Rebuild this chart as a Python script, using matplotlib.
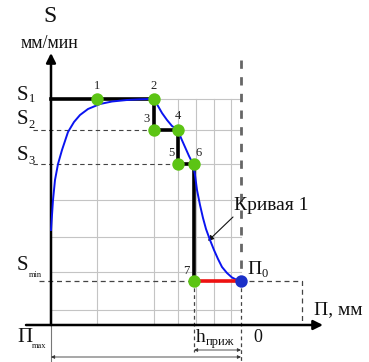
import matplotlib
matplotlib.use("Agg")
import matplotlib.pyplot as plt
import numpy as np

plt.rcParams['font.family'] = ['Liberation Serif', 'DejaVu Serif']

# picture coordinates (x to the right, y downwards)
ax_x0, ax_y0 = 51, 325           # origin of the S / П axes
x_zero = 241                      # П = 0
s_levels = {'S1': 99, 'S2': 130, 'S3': 164, 'Smin': 281}

# step path of the feed (points 1..7)
pt_names = ['1', '2', '3', '4', '5', '6', '7']
pt_x = [97, 154, 154, 178, 178, 194, 194]
pt_y = [99, 99, 130, 130, 164, 164, 281]
step_x = [51, 154, 154, 178, 178, 194, 194]
step_y = [99, 99, 130, 130, 164, 164, 281]

# curve 1
curve_x = [51, 52, 53, 55, 58, 62, 68, 74, 80, 88, 100, 112, 127, 140, 150, 154,
           158, 162, 167, 172, 178, 181, 185, 189, 193,
           195, 197, 200, 203, 206, 210, 214, 218, 222, 227, 232, 237, 241]
curve_y = [230, 215, 200, 180, 164, 150, 132, 122, 115, 109, 104, 101.5, 100, 99.3, 99, 99.5,
           106, 113, 120, 126, 130, 138, 147, 156, 164,
           175, 190, 205, 218, 229, 240, 250, 259, 267, 273, 277.5, 280, 281]

grid_vx = [97, 154, 178, 196, 214, 231]
grid_hy = [200, 237, 272, 310]

fig = plt.figure(figsize=(3.69, 3.62), dpi=100)
ax = fig.add_axes([0, 0, 1, 1])
ax.set_xlim(0, 369)
ax.set_ylim(362, 0)
ax.axis('off')

gc = '#c4c4c4'
for x in grid_vx:
    ax.plot([x, x], [99, ax_y0], color=gc, lw=0.8, zorder=1)
for y in grid_hy:
    ax.plot([ax_x0, x_zero], [y, y], color=gc, lw=0.8, zorder=1)
ax.plot([ax_x0, x_zero], [99, 99], color=gc, lw=0.8, zorder=1)
ax.plot([154, x_zero], [130, 130], color=gc, lw=0.8, zorder=1)
ax.plot([178, x_zero], [164, 164], color=gc, lw=0.8, zorder=1)

# dashed level lines
dc = '#444444'
ax.plot([33, 154], [130, 130], color=dc, lw=0.8, ls=(0, (4, 3)), zorder=2)
ax.plot([33, 178], [164, 164], color=dc, lw=0.8, ls=(0, (4, 3)), zorder=2)
ax.plot([39, 302, 302], [281, 281, ax_y0], color=dc, lw=0.9, ls=(0, (4, 3)), zorder=2)
ax.plot([x_zero, x_zero], [60, 281], color='#666666', lw=2, ls=(0, (3, 3)), zorder=2)
ax.plot([x_zero, x_zero], [281, 362], color=dc, lw=0.9, ls=(0, (3, 2.5)), zorder=2)
ax.plot([194, 194], [281, 352], color=dc, lw=0.9, ls=(0, (3, 2.5)), zorder=2)
ax.plot([ax_x0, ax_x0], [ax_y0, 362], color='#777777', lw=0.8, zorder=2)

# dimension arrows
ax.annotate('', xy=(194, 350), xytext=(x_zero, 350),
            arrowprops=dict(arrowstyle='<|-|>', lw=0.6, color='#333333',
                            mutation_scale=5, shrinkA=0, shrinkB=0))
ax.annotate('', xy=(ax_x0, 357), xytext=(x_zero, 357),
            arrowprops=dict(arrowstyle='<|-|>', lw=0.6, color='#333333',
                            mutation_scale=5, shrinkA=0, shrinkB=0))

# axes
ax.annotate('', xy=(ax_x0, 53), xytext=(ax_x0, ax_y0),
            arrowprops=dict(arrowstyle='-|>', lw=1.8, color='black',
                            mutation_scale=14, shrinkA=0, shrinkB=0), zorder=4)
ax.annotate('', xy=(323, ax_y0), xytext=(26, ax_y0),
            arrowprops=dict(arrowstyle='-|>', lw=1.8, color='black',
                            mutation_scale=14, shrinkA=0, shrinkB=0), zorder=4)

# step path, curve, red segment
ax.plot(step_x, step_y, color='black', lw=2.6, zorder=5, solid_joinstyle='miter')
ax.plot(curve_x, curve_y, color='#0a14f0', lw=1.4, zorder=6)
ax.plot([194, x_zero], [281, 281], color='#ee1111', lw=2.6, zorder=6)

ax.scatter(pt_x, pt_y, s=80, color='#5cc414', zorder=7, linewidths=0)
ax.scatter([x_zero], [281], s=80, color='#1a2fc8', zorder=7, linewidths=0)

lbl_off = {'1': (0, -13), '2': (0, -13), '3': (-8, -11), '4': (0, -14),
           '5': (-7, -11), '6': (5, -11), '7': (-8, -10)}
for n, x, y in zip(pt_names, pt_x, pt_y):
    dx, dy = lbl_off[n]
    ax.text(x + dx, y + dy, n, fontsize=9, ha='center', va='center', color='#222222')


def sub_label(x, y, main, sub, size=15, subsize=9, sub_dx=1, sub_dy=4):
    t = ax.text(x, y, main, fontsize=size, ha='left', va='center', color='#111111')
    fig.canvas.draw()
    bb = t.get_window_extent().transformed(ax.transData.inverted())
    ax.text(bb.x1 + sub_dx, y + sub_dy, sub, fontsize=subsize, ha='left',
            va='center', color='#111111')


ax.text(50, 17, 'S', fontsize=17, ha='center', va='center', color='#111111')
ax.text(50, 43, 'мм/мин', fontsize=13, ha='center', va='center', color='#111111')

sub_label(17, 95, 'S', '1', sub_dx=0, sub_dy=4)
sub_label(17, 119, 'S', '2', sub_dx=0, sub_dy=6)
sub_label(17, 155, 'S', '3', sub_dx=0, sub_dy=6)
sub_label(17, 266, 'S', 'min', subsize=6, sub_dx=0, sub_dy=9)
sub_label(17, 338, 'П', 'max', subsize=6, sub_dx=0, sub_dy=8)
sub_label(247, 269, 'П', '0', size=14, subsize=9, sub_dx=0, sub_dy=5)
sub_label(196, 338, 'h', 'приж', size=14, subsize=9, sub_dx=0, sub_dy=4)

ax.text(253, 337, '0', fontsize=13, ha='left', va='center', color='#111111')
ax.text(314, 310, 'П, мм', fontsize=14, ha='left', va='center', color='#111111')
ax.text(234, 205, 'Кривая 1', fontsize=14, ha='left', va='center', color='#111111')
ax.annotate('', xy=(208, 241), xytext=(233, 217),
            arrowprops=dict(arrowstyle='-|>', lw=0.8, color='#111111',
                            mutation_scale=8, shrinkA=0, shrinkB=0))

fig.savefig('out.png', dpi=100)
